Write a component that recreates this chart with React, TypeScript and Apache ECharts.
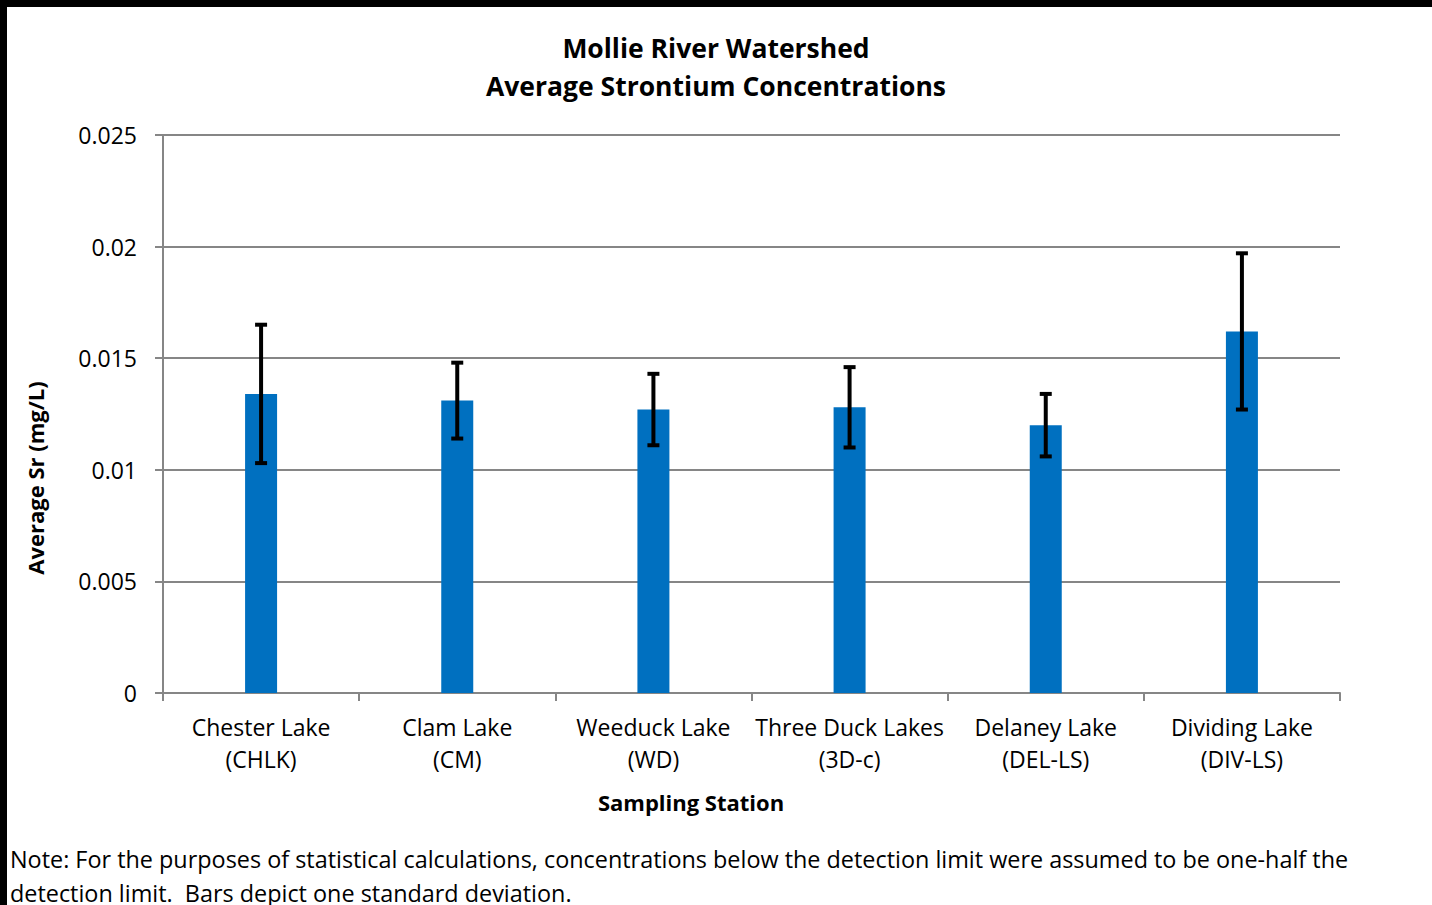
import React, { useEffect, useRef } from "react";
import * as echarts from "echarts";

const categories = [
  "Chester Lake\n(CHLK)",
  "Clam Lake\n(CM)",
  "Weeduck Lake\n(WD)",
  "Three Duck Lakes\n(3D-c)",
  "Delaney Lake\n(DEL-LS)",
  "Dividing Lake\n(DIV-LS)",
];
const means = [0.0134, 0.0131, 0.0127, 0.0128, 0.012, 0.0162];
const sds = [0.0031, 0.0017, 0.0016, 0.0018, 0.0014, 0.0035];
const yTicks = [0, 0.005, 0.01, 0.015, 0.02, 0.025];

const FONT = "'Open Sans', 'Noto Sans', sans-serif";

export default function App() {
  const ref = useRef<HTMLDivElement>(null);
  useEffect(() => {
    document.body.style.margin = "0";
    if (!ref.current) return;
    const chart = echarts.init(ref.current, null, { renderer: "svg" });
    const errData = means.map((m, i) => [i, m - sds[i], m + sds[i]]);
    chart.setOption({
      animation: false,
      backgroundColor: "#ffffff",
      title: {
        text: "Mollie River Watershed\nAverage Strontium Concentrations",
        left: "center",
        top: 24,
        textStyle: {
          fontFamily: FONT,
          fontWeight: "bold",
          fontSize: 26.5,
          lineHeight: 38,
          color: "#000",
        },
      },
      grid: { left: 163, right: 92, top: 135, bottom: 212, containLabel: false },
      xAxis: {
        type: "category",
        data: categories,
        axisLine: { show: true, lineStyle: { color: "#868686", width: 2 } },
        axisTick: { show: true, length: 8, alignWithLabel: false, lineStyle: { color: "#868686", width: 2 } },
        axisLabel: {
          margin: 18,
          fontFamily: FONT,
          fontSize: 23,
          lineHeight: 32,
          color: "#000",
          interval: 0,
        },
      },
      yAxis: {
        type: "value",
        min: 0,
        max: yTicks[yTicks.length - 1],
        interval: yTicks[1] - yTicks[0],
        axisLine: { show: true, lineStyle: { color: "#868686", width: 2 } },
        axisTick: { show: true, length: 8, lineStyle: { color: "#868686", width: 2 } },
        splitLine: { show: true, lineStyle: { color: "#868686", width: 2 } },
        axisLabel: {
          margin: 26,
          fontFamily: FONT,
          fontSize: 23,
          color: "#000",
          formatter: (v: number) => String(+v.toFixed(3)),
        },
      },
      series: [
        {
          type: "bar",
          data: means,
          barWidth: 32,
          itemStyle: { color: "#0070C0" },
          z: 2,
        },
        {
          type: "custom",
          data: errData,
          z: 5,
          renderItem: (params: any, api: any) => {
            const idx = api.value(0);
            const lo = api.coord([idx, api.value(1)]);
            const hi = api.coord([idx, api.value(2)]);
            const half = 6;
            const style = { stroke: "#000", lineWidth: 4 };
            return {
              type: "group",
              children: [
                { type: "line", shape: { x1: hi[0], y1: hi[1], x2: lo[0], y2: lo[1] }, style },
                { type: "line", shape: { x1: hi[0] - half, y1: hi[1], x2: hi[0] + half, y2: hi[1] }, style },
                { type: "line", shape: { x1: lo[0] - half, y1: lo[1], x2: lo[0] + half, y2: lo[1] }, style },
              ],
            };
          },
        },
      ],
      graphic: [
        { type: "rect", shape: { x: 0, y: 0, width: 1432, height: 7 }, style: { fill: "#000" } },
        { type: "rect", shape: { x: 0, y: 0, width: 7, height: 905 }, style: { fill: "#000" } },
        {
          type: "text",
          x: 35,
          y: 478,
          rotation: Math.PI / 2,
          style: {
            text: "Average Sr (mg/L)",
            fontFamily: FONT,
            fontWeight: "bold",
            fontSize: 22,
            fill: "#000",
            align: "center",
            verticalAlign: "middle",
          },
        },
        {
          type: "text",
          x: 691,
          y: 802,
          style: {
            text: "Sampling Station",
            fontFamily: FONT,
            fontWeight: "bold",
            fontSize: 22,
            fill: "#000",
            align: "center",
            verticalAlign: "middle",
          },
        },
        {
          type: "text",
          x: 10,
          y: 842,
          style: {
            text:
              "Note: For the purposes of statistical calculations, concentrations below the detection limit were assumed to be one-half the\ndetection limit.  Bars depict one standard deviation.",
            fontFamily: FONT,
            fontSize: 23.4,
            lineHeight: 34,
            fill: "#000",
            align: "left",
            verticalAlign: "top",
          },
        },
      ],
    });
    return () => chart.dispose();
  }, []);
  return (
    <div
      ref={ref}
      style={{ position: "absolute", left: 0, top: 0, width: 1432, height: 905 }}
    />
  );
}
